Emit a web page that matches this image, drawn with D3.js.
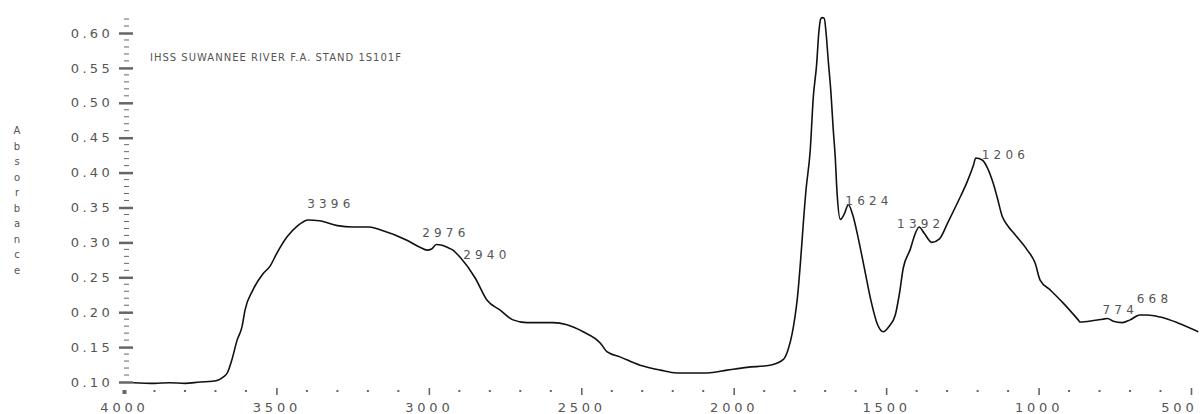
<!DOCTYPE html>
<html>
<head>
<meta charset="utf-8">
<script src="https://cdn.jsdelivr.net/npm/d3@7"></script>
<style>
  html, body { margin: 0; padding: 0; background: #fff; }
  svg { display: block; }
  text { font-family: "DejaVu Sans", sans-serif; }
</style>
</head>
<body>
<svg id="chart" width="1201" height="414"></svg>
<script>
// FTIR spectrum: IHSS Suwannee River fulvic acid standard
const sampleTitle = "IHSS SUWANNEE RIVER F.A. STAND 1S101F";
const yAxisTitle = "Absorbance";

const wavenumber = [
  3970, 3900, 3850, 3800, 3750, 3710, 3690, 3675, 3660, 3646, 3629, 3613, 3603, 3577, 3544, 3521,
  3498, 3465, 3430, 3410, 3396, 3360, 3300, 3250, 3195, 3160, 3072, 3029, 3006, 2990, 2976, 2957,
  2940, 2921, 2898, 2848, 2809, 2766, 2724, 2678, 2593, 2547, 2494, 2438, 2415, 2373, 2307, 2241,
  2186, 2087, 2022, 1956, 1881, 1838, 1822, 1808, 1792, 1762, 1749, 1739, 1728, 1721, 1715, 1710,
  1703, 1697, 1690, 1681, 1674, 1667, 1661, 1650, 1638, 1624, 1610, 1590, 1570, 1550, 1528, 1510,
  1490, 1470, 1457, 1444, 1421, 1405, 1392, 1375, 1350, 1325, 1297, 1257, 1234, 1214, 1206, 1185,
  1169, 1149, 1136, 1119, 1103, 1077, 1037, 1011, 995, 962, 919, 870, 864, 820, 790, 774,
  755, 725, 700, 668, 644, 601, 545, 476
];
const absorbance = [
  0.099, 0.098, 0.099, 0.098, 0.100, 0.101, 0.103, 0.107, 0.114, 0.132, 0.160, 0.179, 0.203, 0.232, 0.255, 0.266,
  0.285, 0.308, 0.324, 0.330, 0.332, 0.331, 0.324, 0.322, 0.322, 0.318, 0.303, 0.293, 0.289, 0.291, 0.297, 0.296,
  0.293, 0.289, 0.279, 0.249, 0.217, 0.203, 0.189, 0.185, 0.185, 0.182, 0.172, 0.156, 0.143, 0.136, 0.124, 0.117,
  0.113, 0.113, 0.117, 0.121, 0.124, 0.132, 0.146, 0.170, 0.217, 0.379, 0.432, 0.508, 0.555, 0.600, 0.620, 0.622,
  0.621, 0.600, 0.561, 0.514, 0.465, 0.422, 0.371, 0.333, 0.340, 0.354, 0.340, 0.303, 0.260, 0.217, 0.182, 0.172,
  0.180, 0.196, 0.225, 0.263, 0.290, 0.312, 0.322, 0.313, 0.300, 0.305, 0.329, 0.365, 0.387, 0.410, 0.421, 0.418,
  0.408, 0.385, 0.365, 0.337, 0.325, 0.311, 0.289, 0.270, 0.246, 0.232, 0.213, 0.189, 0.186, 0.188, 0.190, 0.191,
  0.187, 0.185, 0.189, 0.196, 0.196, 0.193, 0.185, 0.172
];

// Annotated band positions (cm-1)
const peakWavenumbers = [3396, 2976, 2940, 1624, 1392, 1206, 774, 668];

// Axis tick values
const xMajorTicks = [4000, 3500, 3000, 2500, 2000, 1500, 1000, 500];
const yMajorTicks = [0.10, 0.15, 0.20, 0.25, 0.30, 0.35, 0.40, 0.45, 0.50, 0.55, 0.60];

const svg = d3.select("#chart");

const x = d3.scaleLinear().domain([4000, 500]).range([124, 1191]);
const y = d3.scaleLinear().domain([0.10, 0.60]).range([382, 33]);

const textColor = "#555";
const tickColor = "#666";

// ---- Y axis: major and minor ticks, no spine ----
const yMinor = d3.range(10, 63).map(v => v / 100).filter(v => !yMajorTicks.some(m => Math.abs(m - v) < 1e-9));

const yAxisG = svg.append("g").attr("transform", "translate(133,0)");
yAxisG.call(d3.axisLeft(y).tickValues(yMajorTicks).tickSize(14).tickPadding(6)
    .tickFormat(d3.format(".2f")))
  .call(g => g.select(".domain").remove())
  .call(g => g.selectAll(".tick line").attr("stroke", tickColor).attr("stroke-width", 2.5))
  .call(g => g.selectAll(".tick text")
    .attr("fill", textColor).attr("font-size", 13).attr("letter-spacing", 3.3)
    .attr("font-family", "DejaVu Sans, sans-serif"));

svg.append("g").selectAll("line").data(yMinor).join("line")
  .attr("x1", 124).attr("x2", 129)
  .attr("y1", d => y(d)).attr("y2", d => y(d))
  .attr("stroke", tickColor).attr("stroke-width", 1);

// ---- X axis: major ticks and dotted minor ticks ----
const xMinor = d3.range(3900, 500, -100).filter(v => v % 500 !== 0);

const xAxisG = svg.append("g").attr("transform", "translate(0,388)");
xAxisG.call(d3.axisBottom(x).tickValues(xMajorTicks).tickSize(7).tickPadding(8)
    .tickFormat(d3.format("d")))
  .call(g => g.select(".domain").remove())
  .call(g => g.selectAll(".tick line").attr("stroke", tickColor).attr("stroke-width", 1.6))
  .call(g => g.selectAll(".tick text")
    .attr("fill", textColor).attr("font-size", 13).attr("letter-spacing", 3.8)
    .attr("font-family", "DejaVu Sans, sans-serif"));

// first tick drawn as a heavier square mark
xAxisG.select(".tick line").attr("stroke-width", 4).attr("y1", 2).attr("y2", 6);

// last label kept inside the right edge
xAxisG.selectAll(".tick").filter(d => d === 500).select("text")
  .attr("text-anchor", "end").attr("dx", 6);

svg.append("g").selectAll("rect").data(xMinor).join("rect")
  .attr("x", d => x(d) - 1).attr("y", 390)
  .attr("width", 2).attr("height", 2)
  .attr("fill", tickColor);

// ---- Y axis title as stacked letters ----
svg.append("g").selectAll("text").data(yAxisTitle.split("")).join("text")
  .attr("x", 17).attr("y", (d, i) => 134 + i * 15.5)
  .attr("text-anchor", "middle")
  .attr("font-size", 10).attr("fill", textColor)
  .text(d => d);

// ---- Sample title ----
svg.append("text")
  .attr("x", 150).attr("y", 61)
  .attr("font-size", 10).attr("letter-spacing", 1)
  .attr("fill", textColor)
  .text(sampleTitle);

// ---- Spectrum ----
const spectrum = wavenumber.map((w, i) => ({ w, a: absorbance[i] }));
svg.append("path")
  .datum(spectrum)
  .attr("fill", "none")
  .attr("stroke", "#111")
  .attr("stroke-width", 1.6)
  .attr("stroke-linejoin", "round")
  .attr("d", d3.line().x(d => x(d.w)).y(d => y(d.a)).curve(d3.curveMonotoneX));

// ---- Peak annotations ----
const absAt = w => {
  const i = wavenumber.indexOf(w);
  return i >= 0 ? absorbance[i] : absorbance[d3.leastIndex(wavenumber, v => Math.abs(v - w))];
};
// label offsets from the annotated point (px)
const labelOffsets = {
  3396: [-1, -12], 2976: [-14, -7], 2940: [16, 12], 1624: [-3, 0],
  1392: [-22, 1], 1206: [6, 1], 774: [-5, -4], 668: [-3, -12]
};
svg.append("g").selectAll("text").data(peakWavenumbers).join("text")
  .attr("x", d => x(d) + labelOffsets[d][0])
  .attr("y", d => y(absAt(d)) + labelOffsets[d][1])
  .attr("font-size", 12).attr("letter-spacing", 4.2)
  .attr("fill", textColor)
  .text(d => d);
</script>
</body>
</html>
